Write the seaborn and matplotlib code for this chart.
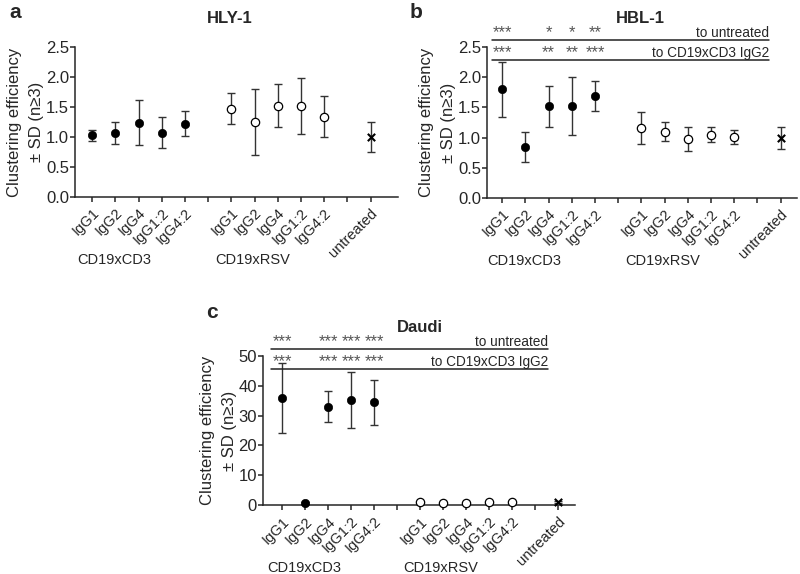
import numpy as np
import matplotlib
matplotlib.use("Agg")
import matplotlib.pyplot as plt
import seaborn as sns
import pandas as pd

sns.set_style("ticks")
plt.rcParams['font.family'] = ['Liberation Sans', 'DejaVu Sans']
plt.rcParams['axes.linewidth'] = 1.1

# categories: 5 CD19xCD3, gap, 5 CD19xRSV, gap, untreated
labels = ["IgG1", "IgG2", "IgG4", "IgG1:2", "IgG4:2", "",
          "IgG1", "IgG2", "IgG4", "IgG1:2", "IgG4:2", "", "untreated"]
groups = ["CD3"] * 5 + ["RSV"] * 5 + ["untreated"]
positions = [0, 1, 2, 3, 4, 6, 7, 8, 9, 10, 12]

hly_mean = [1.03, 1.07, 1.24, 1.07, 1.22, 1.47, 1.25, 1.52, 1.52, 1.34, 1.00]
hly_sd = [0.09, 0.18, 0.37, 0.26, 0.21, 0.26, 0.55, 0.36, 0.47, 0.34, 0.25]

hbl_mean = [1.80, 0.84, 1.52, 1.52, 1.69, 1.16, 1.10, 0.98, 1.05, 1.01, 1.00]
hbl_sd = [0.46, 0.25, 0.34, 0.48, 0.25, 0.27, 0.16, 0.20, 0.13, 0.11, 0.18]

daudi_mean = [35.8, 0.8, 33.0, 35.1, 34.5, 0.9, 0.8, 0.8, 0.9, 1.0, 1.0]
daudi_sd = [11.7, 0.3, 5.2, 9.4, 7.5, 0.3, 0.3, 0.3, 0.3, 0.3, 0.3]

hbl_vs_untreated = ["***", "", "*", "*", "**"]
hbl_vs_igg2 = ["***", "", "**", "**", "***"]
daudi_vs_untreated = ["***", "", "***", "***", "***"]
daudi_vs_igg2 = ["***", "", "***", "***", "***"]

fig = plt.figure(figsize=(8, 5.74), dpi=100)
ax_a = fig.add_axes([0.094, 0.657, 0.404, 0.261])
ax_b = fig.add_axes([0.609, 0.655, 0.387, 0.263])
ax_c = fig.add_axes([0.329, 0.120, 0.390, 0.260])


def draw_panel(ax, mean, sd, ylim, yticks, xlim):
    df = pd.DataFrame({"pos": positions, "mean": mean, "sd": sd, "group": groups})
    ax.errorbar(df["pos"], df["mean"], yerr=df["sd"], fmt="none", ecolor="#333333",
                elinewidth=1.0, capsize=3, capthick=1.0, zorder=2, clip_on=False)
    cd3 = df[df["group"] == "CD3"]
    rsv = df[df["group"] == "RSV"]
    unt = df[df["group"] == "untreated"]
    sns.scatterplot(x=cd3["pos"], y=cd3["mean"], ax=ax, color="black", s=36,
                    marker="o", edgecolor="black", zorder=3, clip_on=False)
    sns.scatterplot(x=rsv["pos"], y=rsv["mean"], ax=ax, color="white", s=36,
                    marker="o", edgecolor="black", linewidth=0.9, zorder=3, clip_on=False)
    ax.scatter(unt["pos"], unt["mean"], color="black", s=28, marker="x",
               linewidths=1.5, zorder=3, clip_on=False)
    ax.set_xlim(*xlim)
    ax.set_ylim(*ylim)
    ax.set_yticks(yticks)
    ax.set_xticks(range(13))
    ax.set_xticklabels(labels, rotation=45, ha="right", rotation_mode="anchor",
                       fontsize=10.5)
    ax.tick_params(axis="y", labelsize=12, length=3.5, width=1.1, pad=1)
    ax.tick_params(axis="x", length=3.5, width=1.1, pad=3)
    ax.set_xlabel("")
    ax.set_ylabel("Clustering efficiency\n\u00b1 SD (n\u22653)", fontsize=12,
                  labelpad=1, linespacing=1.6)
    sns.despine(ax=ax)
    ax.text(0.95, -0.42, "CD19xCD3", transform=ax.get_xaxis_transform(),
            ha="center", va="center", fontsize=10.5)
    ax.text(6.9, -0.42, "CD19xRSV", transform=ax.get_xaxis_transform(),
            ha="center", va="center", fontsize=10.5)


def draw_sig(ax, y_top, y_low, stars_top, stars_low, x0, x1):
    for yv, stars, name in [(y_top, stars_top, "to untreated"),
                             (y_low, stars_low, "to CD19xCD3 IgG2")]:
        ax.plot([x0, x1], [yv, yv], color="#222222", lw=1.1, clip_on=False)
        for p, s in zip(positions[:5], stars):
            if s:
                ax.text(p, yv, s, ha="center", va="bottom", fontsize=12,
                        color="#555555")
        ax.text(x1, yv, name, ha="right", va="bottom", fontsize=9.8)


ticks_small = [0, 0.5, 1.0, 1.5, 2.0, 2.5]
ticks_small_lbl = ["0.0", "0.5", "1.0", "1.5", "2.0", "2.5"]

draw_panel(ax_a, hly_mean, hly_sd, (0, 2.5), ticks_small, (-0.73, 13.2))
ax_a.set_yticklabels(ticks_small_lbl)

draw_panel(ax_b, hbl_mean, hbl_sd, (0, 2.5), ticks_small, (-0.65, 12.7))
ax_b.set_yticklabels(ticks_small_lbl)
draw_sig(ax_b, 2.62, 2.28, hbl_vs_untreated, hbl_vs_igg2, -0.43, 11.5)

draw_panel(ax_c, daudi_mean, daudi_sd, (0, 50), [0, 10, 20, 30, 40, 50], (-0.83, 12.74))
draw_sig(ax_c, 52.3, 45.6, daudi_vs_untreated, daudi_vs_igg2, -0.48, 11.57)

# titles and panel letters
fig.text(0.2875, 0.968, "HLY-1", fontsize=12, fontweight="bold", ha="center", va="center")
fig.text(0.800, 0.968, "HBL-1", fontsize=12, fontweight="bold", ha="center", va="center")
fig.text(0.525, 0.430, "Daudi", fontsize=12, fontweight="bold", ha="center", va="center")

fig.text(0.012, 0.978, "a", fontsize=15, fontweight="bold", va="center")
fig.text(0.512, 0.978, "b", fontsize=15, fontweight="bold", va="center")
fig.text(0.258, 0.455, "c", fontsize=15, fontweight="bold", va="center")

fig.savefig("out.png", dpi=100)
